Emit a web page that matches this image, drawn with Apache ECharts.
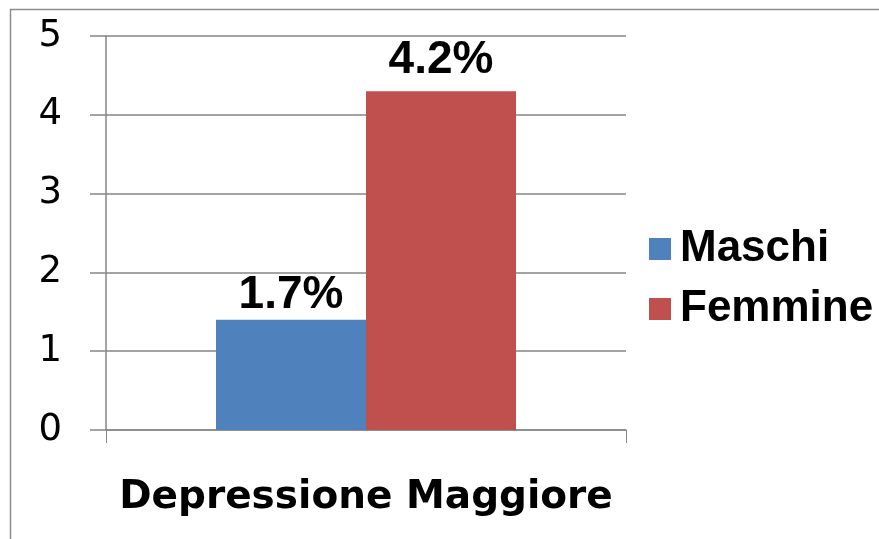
<!DOCTYPE html>
<html><head><meta charset="utf-8">
<script src="https://cdn.jsdelivr.net/npm/echarts@6/dist/echarts.min.js"></script>
<style>html,body{margin:0;padding:0;background:#fff}#c{width:879px;height:539px}</style>
</head><body><div id="c"></div>
<script>
const categories = ['Depressione Maggiore'];
const seriesNames = ['Maschi', 'Femmine'];
const maschiValues = [1.4];
const femmineValues = [4.3];
const maschiLabels = ['1.7%'];
const femmineLabels = ['4.2%'];
const yTicks = [0, 1, 2, 3, 4, 5];
const colors = ['#4F81BD', '#C0504D'];

const chart = echarts.init(document.getElementById('c'));
const lblStyle = (texts, dist) => ({
  show: true, position: 'top', distance: dist,
  formatter: p => texts[p.dataIndex],
  fontFamily: 'Liberation Sans, Arial, sans-serif', fontWeight: 'bold', fontSize: 46, color: '#000'
});
chart.setOption({
  animation: false,
  color: colors,
  graphic: [{ type: 'rect', shape: { x: 10.5, y: 9.5, width: 900, height: 600 }, style: { fill: 'none', stroke: '#8c8c8c', lineWidth: 1.5 } }],
  grid: { left: 106, right: 253, top: 36, bottom: 109 },
  legend: {
    orient: 'vertical', left: 644, top: 222, itemWidth: 22, itemHeight: 22, itemGap: 16,
    icon: 'rect', data: seriesNames,
    textStyle: { fontFamily: 'Liberation Sans, Arial, sans-serif', fontWeight: 'bold', fontSize: 44, color: '#000', padding: [0,0,0,4] }
  },
  xAxis: {
    type: 'category', data: categories,
    axisLine: { lineStyle: { color: '#868686', width: 1.5 } },
    axisTick: { show: true, length: 13, alignWithLabel: false, lineStyle: { color: '#868686' } },
    axisLabel: { margin: 48, fontFamily: 'DejaVu Sans, sans-serif', fontWeight: 'bold', fontSize: 39, color: '#000' }
  },
  yAxis: {
    type: 'value', min: yTicks[0], max: yTicks[yTicks.length - 1], interval: 1,
    axisLine: { show: true, lineStyle: { color: '#868686', width: 1.5 } },
    axisTick: { show: true, length: 16, lineStyle: { color: '#868686', width: 1.5 } },
    splitLine: { lineStyle: { color: '#868686', width: 1.5 } },
    axisLabel: { margin: 44, fontFamily: 'DejaVu Sans, sans-serif', fontSize: 37, color: '#000' }
  },
  series: [
    { name: seriesNames[0], type: 'bar', data: maschiValues, barWidth: 150, barGap: '0%', label: lblStyle(maschiLabels, 1) },
    { name: seriesNames[1], type: 'bar', data: femmineValues, barWidth: 150, barGap: '0%', label: lblStyle(femmineLabels, 8) }
  ]
});
</script></body></html>
